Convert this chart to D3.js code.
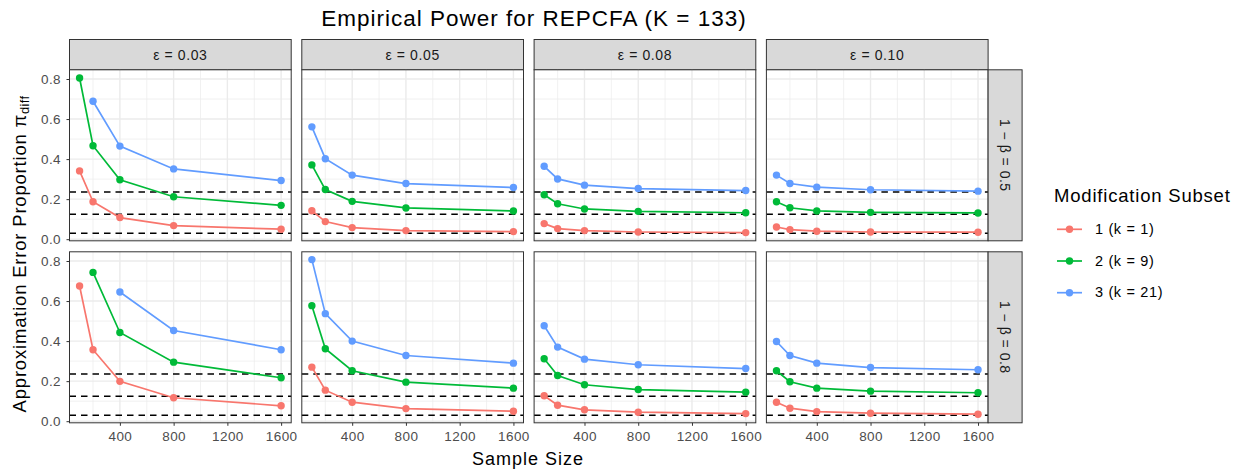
<!DOCTYPE html>
<html>
<head>
<meta charset="utf-8">
<script src="https://cdn.jsdelivr.net/npm/d3@7"></script>
<style>
  body { margin: 0; background: #fff; }
  svg { display: block; font-family: "Liberation Sans", Arial, sans-serif; }
</style>
</head>
<body>
<svg id="chart" width="1242" height="476"></svg>
<script>
// ---------------- DATA ----------------
const sampleSizes = [100, 200, 400, 800, 1600];
const epsilonLabels = ["ε = 0.03", "ε = 0.05", "ε = 0.08", "ε = 0.10"];
const powerLabels = ["1 − β = 0.5", "1 − β = 0.8"];
const subsetLabels = ["1 (k = 1)", "2 (k = 9)", "3 (k = 21)"];
const subsetColors = ["#F8766D", "#00BA38", "#619CFF"];
const referenceLines = [0.03, 0.125, 0.236];
const yTicks = [0.0, 0.2, 0.4, 0.6, 0.8];
const xTicks = [400, 800, 1200, 1600];

// values per epsilon panel (rows), per sample size (columns); null = not estimated
const subset1_power05 = [
  [0.341, 0.187, 0.108, 0.068, 0.050],
  [0.142, 0.088, 0.058, 0.043, 0.038],
  [0.078, 0.053, 0.043, 0.036, 0.033],
  [0.061, 0.048, 0.040, 0.036, 0.035]
];
const subset2_power05 = [
  [0.805, 0.467, 0.297, 0.212, 0.169],
  [0.371, 0.248, 0.189, 0.156, 0.141],
  [0.222, 0.177, 0.151, 0.139, 0.132],
  [0.187, 0.157, 0.141, 0.134, 0.131]
];
const subset3_power05 = [
  [null, 0.689, 0.465, 0.351, 0.293],
  [0.561, 0.402, 0.320, 0.278, 0.258],
  [0.364, 0.301, 0.270, 0.253, 0.243],
  [0.320, 0.278, 0.260, 0.247, 0.240]
];
const subset1_power08 = [
  [0.675, 0.357, 0.199, 0.117, 0.077],
  [0.270, 0.155, 0.095, 0.063, 0.050],
  [0.127, 0.080, 0.057, 0.045, 0.038],
  [0.095, 0.065, 0.048, 0.040, 0.035]
];
const subset2_power08 = [
  [null, 0.743, 0.443, 0.295, 0.217],
  [0.577, 0.362, 0.252, 0.195, 0.165],
  [0.312, 0.228, 0.182, 0.158, 0.145],
  [0.252, 0.197, 0.165, 0.150, 0.142]
];
const subset3_power08 = [
  [null, null, 0.645, 0.453, 0.357],
  [0.807, 0.537, 0.400, 0.328, 0.290],
  [0.477, 0.370, 0.310, 0.282, 0.263],
  [0.398, 0.328, 0.290, 0.268, 0.257]
];
const seriesByPower = [
  [subset1_power05, subset2_power05, subset3_power05],
  [subset1_power08, subset2_power08, subset3_power08]
];

// ---------------- LAYOUT ----------------
const svg = d3.select("#chart");
const panelLeft0 = 69.5, panelStep = 232.3, pw = 221.7;
const rowTops = [69.8, 251.8], ph = 171;
const stripTop = 39.5, stripH = 30.3;
const rStripW = 34;

const x = d3.scaleLinear().domain([25, 1675]).range([0, pw]);
const y = d3.scaleLinear().domain([-0.008, 0.846]).range([ph, 0]);

const line = d3.line()
  .defined(d => d.v != null)
  .x(d => x(d.n)).y(d => y(d.v));

const gridColor = "#EBEBEB";
const borderColor = "#333333";

// Title
svg.append("text").attr("x", 534).attr("y", 25.5)
  .attr("text-anchor", "middle").attr("font-size", 22.5).attr("letter-spacing", 1.0)
  .attr("fill", "#000")
  .text("Empirical Power for REPCFA (K = 133)");

// Column strips
epsilonLabels.forEach((lab, c) => {
  const gx = panelLeft0 + c * panelStep;
  const g = svg.append("g").attr("transform", `translate(${gx},${stripTop})`);
  g.append("rect").attr("width", pw).attr("height", stripH)
    .attr("fill", "#D9D9D9").attr("stroke", borderColor).attr("stroke-width", 1);
  g.append("text").attr("x", pw / 2).attr("y", stripH / 2 + 5)
    .attr("text-anchor", "middle").attr("font-size", 14).attr("letter-spacing", 0.6)
    .attr("fill", "#1A1A1A").text(lab);
});

// Panels
powerLabels.forEach((plab, r) => {
  const top = rowTops[r];
  epsilonLabels.forEach((elab, c) => {
    const gx = panelLeft0 + c * panelStep;
    const g = svg.append("g").attr("transform", `translate(${gx},${top})`);
    g.append("rect").attr("width", pw).attr("height", ph).attr("fill", "#fff");
    // minor grid
    const yMinor = [0.1, 0.3, 0.5, 0.7];
    const xMinor = [200, 600, 1000, 1400];
    g.selectAll(".ymn").data(yMinor).enter().append("line")
      .attr("x1", 0).attr("x2", pw).attr("y1", d => y(d)).attr("y2", d => y(d))
      .attr("stroke", gridColor).attr("stroke-width", 0.7);
    g.selectAll(".xmn").data(xMinor).enter().append("line")
      .attr("y1", 0).attr("y2", ph).attr("x1", d => x(d)).attr("x2", d => x(d))
      .attr("stroke", gridColor).attr("stroke-width", 0.7);
    // major grid
    g.selectAll(".ymj").data(yTicks).enter().append("line")
      .attr("x1", 0).attr("x2", pw).attr("y1", d => y(d)).attr("y2", d => y(d))
      .attr("stroke", gridColor).attr("stroke-width", 1.4);
    g.selectAll(".xmj").data(xTicks).enter().append("line")
      .attr("y1", 0).attr("y2", ph).attr("x1", d => x(d)).attr("x2", d => x(d))
      .attr("stroke", gridColor).attr("stroke-width", 1.4);

    // reference dashed lines
    g.selectAll(".ref").data(referenceLines).enter().append("line")
      .attr("x1", 0).attr("x2", pw).attr("y1", d => y(d)).attr("y2", d => y(d))
      .attr("stroke", "#000").attr("stroke-width", 1.5).attr("stroke-dasharray", "6.5,5");

    // series
    seriesByPower[r].forEach((ser, s) => {
      const pts = sampleSizes.map((n, i) => ({ n, v: ser[c][i] }));
      g.append("path").datum(pts).attr("d", line)
        .attr("fill", "none").attr("stroke", subsetColors[s]).attr("stroke-width", 1.7);
      g.selectAll(".pt" + s).data(pts.filter(d => d.v != null)).enter().append("circle")
        .attr("cx", d => x(d.n)).attr("cy", d => y(d.v)).attr("r", 3.7)
        .attr("fill", subsetColors[s]);
    });

    // border
    g.append("rect").attr("width", pw).attr("height", ph)
      .attr("fill", "none").attr("stroke", borderColor).attr("stroke-width", 1);

    // y axis on first column
    if (c === 0) {
      const ya = g.append("g").call(d3.axisLeft(y).tickValues(yTicks).tickFormat(d3.format(".1f")).tickSize(3).tickPadding(5.5));
      ya.select(".domain").remove();
      ya.selectAll("line").attr("stroke", borderColor);
      ya.selectAll("text").attr("font-size", 13.5).attr("letter-spacing", 0.4).attr("fill", "#4D4D4D")
        .attr("font-family", "Liberation Sans, Arial, sans-serif");
    }
    // x axis on bottom row
    if (r === powerLabels.length - 1) {
      const xa = g.append("g").attr("transform", `translate(0,${ph})`)
        .call(d3.axisBottom(x).tickValues(xTicks).tickFormat(d3.format("d")).tickSize(3).tickPadding(6));
      xa.select(".domain").remove();
      xa.selectAll("line").attr("stroke", borderColor);
      xa.selectAll("text").attr("font-size", 13.5).attr("letter-spacing", 0.4).attr("fill", "#4D4D4D")
        .attr("font-family", "Liberation Sans, Arial, sans-serif");
    }
  });

  // row strip
  const sx = panelLeft0 + (epsilonLabels.length - 1) * panelStep + pw;
  const sg = svg.append("g").attr("transform", `translate(${sx},${top})`);
  sg.append("rect").attr("width", rStripW).attr("height", ph)
    .attr("fill", "#D9D9D9").attr("stroke", borderColor).attr("stroke-width", 1);
  sg.append("text")
    .attr("transform", `translate(${rStripW / 2 - 5},${ph / 2}) rotate(90)`)
    .attr("text-anchor", "middle").attr("font-size", 14).attr("letter-spacing", 0.5)
    .attr("fill", "#1A1A1A").text(plab);
});

// Axis titles
svg.append("text").attr("x", 528).attr("y", 464.5).attr("text-anchor", "middle")
  .attr("font-size", 18).attr("letter-spacing", 1.0).attr("fill", "#000").text("Sample Size");

const yl = svg.append("text")
  .attr("transform", "translate(26,254) rotate(-90)")
  .attr("text-anchor", "middle").attr("font-size", 18.5).attr("letter-spacing", 0.8).attr("fill", "#000");
yl.append("tspan").text("Approximation Error Proportion π");
yl.append("tspan").attr("font-size", 13).attr("letter-spacing", 0.3).attr("dy", 3).text("diff");

// Legend
const lg = svg.append("g").attr("transform", "translate(1054,0)");
lg.append("text").attr("x", 0).attr("y", 201.7).attr("font-size", 18.5).attr("letter-spacing", 0.8)
  .attr("fill", "#000").text("Modification Subset");
subsetLabels.forEach((lab, i) => {
  const cy = 229.3 + i * 31.7;
  lg.append("line").attr("x1", 3).attr("x2", 28).attr("y1", cy).attr("y2", cy)
    .attr("stroke", subsetColors[i]).attr("stroke-width", 1.7);
  lg.append("circle").attr("cx", 15.5).attr("cy", cy).attr("r", 3.7).attr("fill", subsetColors[i]);
  lg.append("text").attr("x", 41).attr("y", cy + 4.7).attr("font-size", 14.5).attr("letter-spacing", 0.65)
    .attr("fill", "#000").text(lab);
});
</script>
</body>
</html>
